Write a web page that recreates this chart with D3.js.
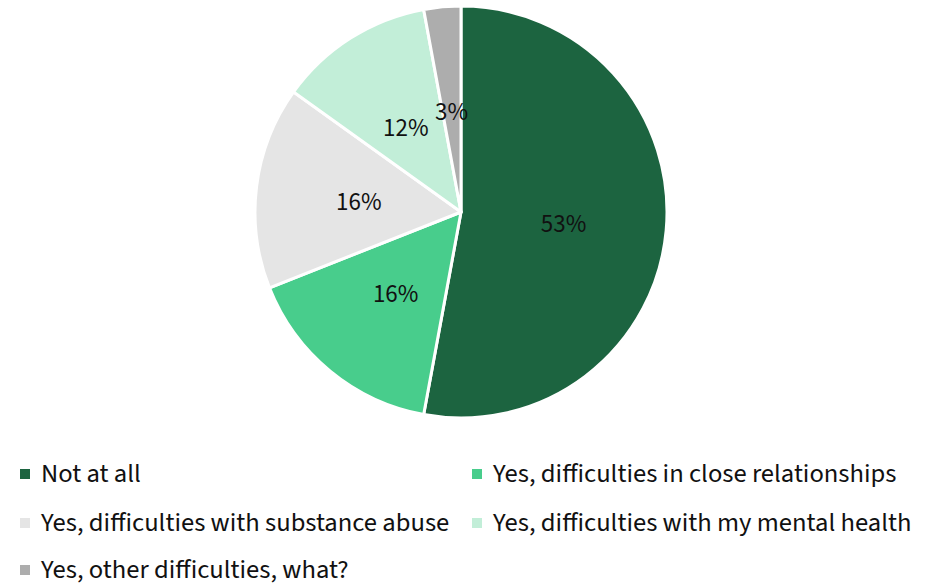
<!DOCTYPE html>
<html><head><meta charset="utf-8">
<script src="https://cdn.jsdelivr.net/npm/d3@7"></script>
<style>body{margin:0;background:#fff}svg{display:block}</style>
</head><body><div id="chart"></div>
<script>
const categories = ["Not at all","Yes, difficulties in close relationships","Yes, difficulties with substance abuse","Yes, difficulties with my mental health","Yes, other difficulties, what?"];
const values = [52.9, 16.1, 15.9, 12.2, 2.9];
const labels = ["53%","16%","16%","12%","3%"];
const colors = ["#1c6440","#48cd8c","#e5e5e5","#c2eed8","#adadad"];

const W = 937, H = 587;
const font = "'Source Sans Pro','Source Sans 3',Lato,'Noto Sans',sans-serif";
const svg = d3.select("#chart").append("svg").attr("width", W).attr("height", H);
const cx = 461, cy = 212, r = 206;
const pie = d3.pie().sort(null).value(d => d)(values);
const arc = d3.arc().innerRadius(0).outerRadius(r);
const g = svg.append("g").attr("transform", `translate(${cx},${cy})`);
g.selectAll("path").data(pie).join("path")
  .attr("d", arc).attr("fill", (d,i) => colors[i])
  .attr("stroke", "#fff").attr("stroke-width", 3).attr("stroke-linejoin","round");
g.selectAll("text").data(pie).join("text")
  .attr("transform", d => `translate(${arc.centroid(d)})`)
  .attr("text-anchor", "middle").attr("dy", "0.42em")
  .style("font-family", font).style("font-size", "25px").attr("fill", "#111")
  .text((d,i) => labels[i]);

const pos = [[20,482],[472,482],[20,531],[472,531],[20,578]];
const lg = svg.append("g");
categories.forEach((c,i) => {
  const [x,y] = pos[i];
  lg.append("rect").attr("x", x).attr("y", y-13).attr("width", 10).attr("height", 10).attr("fill", colors[i]);
  lg.append("text").attr("x", x+21).attr("y", y)
    .style("font-family", font).style("font-size", "26.6px").attr("fill", "#111").text(c);
});
</script></body></html>
